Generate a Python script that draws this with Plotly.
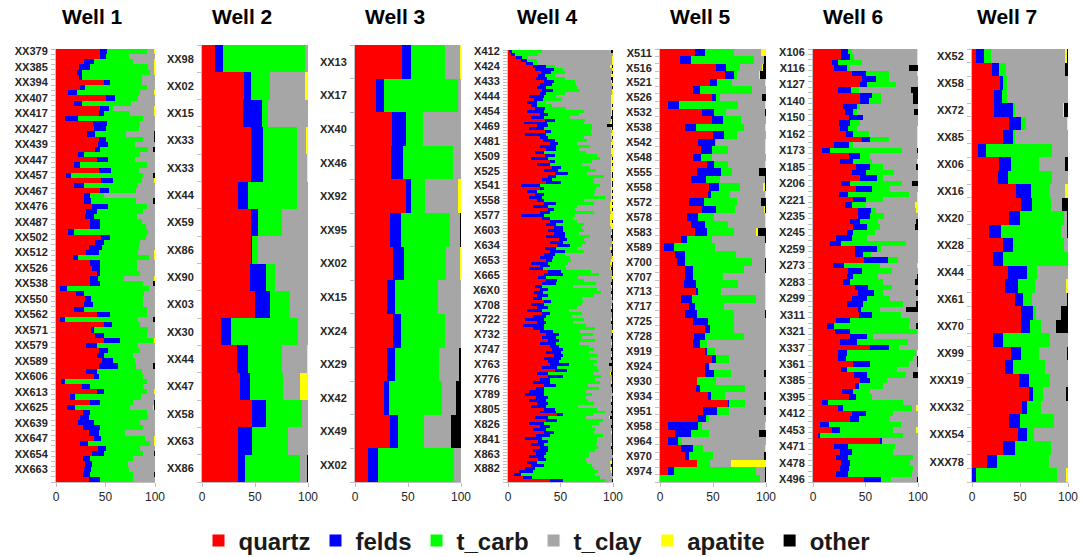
import plotly.graph_objects as go

W, H = 1081, 557

# ---------------- Well 1 ----------------
w1_labels = ["XX379", "XX385", "XX394", "XX407", "XX417", "XX427", "XX439", "XX447", "XX457", "XX467",
             "XX476", "XX487", "XX502", "XX512", "XX526", "XX538", "XX550", "XX562", "XX571", "XX579",
             "XX589", "XX606", "XX613", "XX625", "XX639", "XX647", "XX654", "XX663"]
w1_quartz = [44, 44, 28, 23, 21, 23, 48, 24, 12, 51, 18, 44, 43, 9, 37, 38, 31, 43, 42, 39,
             22, 41, 18, 43, 10, 46, 18, 44, 28, 28, 36, 30, 29, 34, 34, 12, 45, 39,
             33, 31, 17, 34, 36, 41, 34, 34, 4, 20, 29, 28, 18, 41, 4, 48, 35, 39, 48, 30,
             43, 41, 46, 43, 30, 38, 5, 26, 41, 14, 34, 11, 27, 24, 22, 27, 33, 38, 24, 42,
             36, 27, 29, 28, 27, 33]
w1_felds = [8, 6, 10, 11, 5, 3, 7, 5, 9, 9, 8, 10, 5, 13, 15, 12, 8, 8, 11, 5,
            6, 12, 6, 13, 5, 12, 10, 10, 6, 7, 17, 11, 9, 10, 10, 6, 10, 9,
            13, 13, 5, 10, 8, 3, 8, 10, 7, 8, 6, 9, 10, 14, 5, 9, 3, 9, 17, 11,
            10, 7, 12, 20, 11, 5, 4, 8, 7, 5, 10, 8, 7, 9, 16, 17, 10, 7, 8, 9,
            12, 7, 7, 7, 7, 11]
w1_carb = [40, 24, 40, 59, 69, 61, 32, 63, 64, 23, 50, 4, 27, 66, 33, 34, 32, 37, 27, 49,
           56, 27, 68, 28, 73, 30, 55, 27, 14, 46, 39, 47, 44, 43, 47, 75, 36, 37,
           38, 40, 72, 38, 38, 41, 27, 44, 83, 61, 53, 51, 64, 37, 74, 28, 55, 44, 33, 42,
           32, 30, 22, 18, 46, 45, 83, 54, 44, 67, 34, 56, 58, 60, 47, 44, 27, 45, 63, 34,
           40, 44, 37, 39, 44, 34]
w1_clay = [7, 26, 21, 6, 4, 13, 13, 8, 14, 17, 24, 41, 24, 12, 15, 16, 28, 11, 20, 5,
           15, 20, 8, 16, 10, 12, 17, 19, 52, 17, 8, 12, 18, 13, 9, 7, 9, 15,
           16, 16, 5, 18, 18, 15, 30, 10, 6, 11, 12, 12, 8, 8, 15, 15, 7, 8, 1, 17,
           15, 22, 20, 17, 13, 12, 8, 12, 7, 14, 21, 23, 8, 7, 15, 12, 30, 9, 4, 15,
           11, 22, 27, 26, 21, 22]
w1_apatite = [1, 0, 1, 1, 1, 0, 0, 0, 1, 0, 0, 1, 1, 0, 0, 0, 0, 0, 0, 0,
              0, 0, 0, 0, 0, 1, 0, 0, 0, 0, 0, 0, 0, 0, 0, 0, 0, 0,
              0, 1, 1, 0, 0, 0, 1, 0, 0, 0, 0, 0, 0, 0, 0, 0, 0, 0, 1, 0,
              0, 0, 0, 0, 0, 0, 0, 0, 1, 0, 0, 1, 0, 0, 0, 0, 0, 1, 1, 0,
              0, 0, 0, 0, 0, 0]
w1_other = [0, 0, 0, 0, 0, 0, 0, 0, 0, 0, 0, 0, 0, 0, 0, 0, 1, 1, 0, 2,
            0, 0, 0, 0, 2, 0, 0, 0, 0, 2, 0, 0, 0, 0, 0, 0, 0, 0,
            0, 0, 0, 0, 0, 0, 0, 2, 0, 0, 0, 0, 0, 0, 2, 0, 0, 0, 0, 0,
            0, 0, 0, 2, 0, 0, 0, 0, 0, 0, 1, 1, 0, 0, 0, 0, 0, 0, 0, 0,
            1, 0, 0, 0, 1, 0]

# ---------------- Well 2 ----------------
w2_labels = ["XX98", "XX02", "XX15", "XX33", "XX33", "XX44", "XX59", "XX86",
             "XX90", "XX03", "XX30", "XX44", "XX47", "XX58", "XX63", "XX86"]
w2_quartz = [12, 40, 39, 46, 46, 34, 46, 46, 45, 50, 18, 33, 36, 47, 34, 34]
w2_felds = [8, 6, 18, 12, 12, 9, 7, 1, 15, 14, 9, 10, 9, 13, 13, 7]
w2_carb = [77, 18, 5, 32, 32, 47, 22, 6, 9, 19, 64, 32, 31, 34, 34, 51]
w2_clay = [3, 33, 38, 8, 9, 10, 25, 47, 31, 17, 9, 24, 16, 6, 19, 7]
w2_apatite = [0, 3, 0, 2, 1, 0, 0, 0, 0, 0, 0, 1, 8, 0, 0, 0]
w2_other = [0, 0, 0, 0, 0, 0, 0, 0, 0, 0, 0, 0, 0, 0, 0, 1]

# ---------------- Well 3 ----------------
w3_labels = ["XX13", "XX17", "XX40", "XX46", "XX92", "XX95", "XX02", "XX15", "XX24",
             "XX29", "XX42", "XX49", "XX02"]
w3_quartz = [44, 20, 35, 34, 48, 33, 36, 30, 36, 30, 27, 33, 12]
w3_felds = [9, 7, 13, 11, 5, 10, 10, 8, 7, 8, 5, 8, 10]
w3_carb = [32, 70, 16, 47, 13, 46, 40, 40, 42, 41, 50, 24, 71]
w3_clay = [14, 3, 36, 8, 31, 9, 13, 22, 15, 19, 13, 26, 7]
w3_apatite = [1, 0, 0, 0, 3, 0, 1, 0, 0, 0, 0, 0, 0]
w3_other = [0, 0, 0, 0, 0, 1, 0, 0, 0, 2, 5, 9, 0]

# ---------------- Well 4 ----------------
w4_labels = ["X412", "X424", "X433", "X444", "X454", "X469", "X481", "X509", "X525", "X541",
             "X558", "X577", "X603", "X634", "X653", "X665", "X6X0", "X708", "X722", "X732",
             "X747", "X763", "X776", "X789", "X805", "X826", "X841", "X863", "X882"]
w4_quartz = [1, 3, 8, 12, 17, 24, 26, 31, 29, 27, 34, 30, 28, 32, 30, 20, 25, 18, 22, 26,
             18, 30, 22, 35, 15, 28, 20, 35, 16, 30, 33, 40, 30, 36, 26, 35, 22, 40, 28, 42,
             34, 45, 38, 32, 36, 12, 30, 18, 26, 20, 28, 34, 24, 38, 30, 12, 32, 40, 36, 44,
             38, 44, 36, 48, 40, 46, 36, 40, 34, 30, 36, 22, 30, 20, 38, 34, 28, 36, 32, 26,
             30, 25, 28, 24, 34, 22, 28, 18, 32, 24, 16, 28, 14, 24, 30, 36, 32, 38, 30, 40,
             42, 36, 44, 34, 38, 40, 32, 44, 28, 38, 30, 24, 34, 26, 20, 16, 26, 20, 28, 22,
             34, 30, 46, 26, 36, 20, 30, 24, 34, 26, 16, 28, 22, 30, 24, 26, 20, 28, 18, 22,
             16, 10, 6, 14, 40]
w4_felds = [3, 4, 5, 6, 7, 12, 18, 10, 6, 10, 10, 12, 8, 11, 6, 14, 8, 10, 6, 9,
            16, 8, 12, 10, 22, 10, 14, 6, 20, 8, 12, 8, 16, 10, 8, 10, 16, 5, 12, 8,
            14, 12, 8, 10, 14, 18, 4, 10, 8, 12, 6, 12, 14, 6, 10, 22, 8, 12, 10, 8,
            14, 10, 18, 8, 12, 12, 10, 14, 10, 12, 6, 16, 10, 14, 12, 18, 8, 10, 14, 6,
            8, 8, 10, 8, 6, 12, 10, 14, 8, 12, 18, 8, 20, 10, 12, 12, 14, 10, 16, 8,
            10, 14, 8, 16, 10, 18, 14, 12, 10, 14, 10, 16, 12, 8, 14, 18, 12, 16, 10, 14,
            10, 16, 6, 12, 10, 14, 10, 12, 10, 14, 16, 10, 12, 8, 14, 10, 14, 8, 10, 12,
            10, 14, 6, 8, 12]
w4_carb = [28, 22, 6, 10, 5, 9, 8, 13, 10, 17, 20, 23, 30, 26, 18, 12, 18, 8, 14, 20,
           38, 30, 25, 28, 35, 42, 46, 38, 44, 34, 30, 18, 32, 22, 40, 40, 50, 35, 30, 28,
           36, 18, 45, 40, 32, 58, 50, 55, 48, 60, 38, 36, 28, 20, 42, 30, 22, 14, 26, 18,
           20, 14, 24, 16, 22, 12, 20, 18, 10, 16, 18, 20, 14, 22, 28, 34, 30, 26, 38, 30,
           46, 56, 44, 38, 30, 36, 28, 26, 30, 24, 38, 26, 40, 48, 26, 32, 24, 34, 22, 28,
           30, 26, 34, 28, 36, 24, 38, 30, 44, 36, 42, 48, 30, 52, 40, 44, 36, 40, 44, 30,
           40, 46, 28, 36, 44, 52, 40, 46, 38, 50, 52, 46, 50, 48, 44, 40, 42, 38, 48, 46,
           56, 62, 70, 64, 40]
w4_clay = [66, 71, 80, 71, 70, 52, 47, 45, 53, 44, 34, 34, 33, 30, 45, 52, 47, 62, 56, 43,
           26, 30, 39, 25, 25, 14, 18, 20, 18, 26, 24, 32, 20, 30, 24, 14, 10, 18, 28, 20,
           14, 23, 7, 16, 16, 10, 14, 15, 16, 6, 26, 15, 31, 33, 16, 33, 35, 31, 25, 28,
           26, 30, 20, 26, 24, 28, 32, 26, 44, 40, 38, 40, 44, 42, 20, 12, 32, 26, 14, 36,
           14, 9, 16, 28, 28, 28, 32, 40, 28, 38, 26, 36, 24, 16, 30, 18, 28, 16, 30, 22,
           16, 22, 12, 20, 14, 14, 14, 12, 16, 10, 16, 10, 22, 12, 24, 20, 24, 22, 16, 32,
           14, 6, 18, 22, 8, 12, 18, 16, 16, 8, 14, 14, 14, 12, 16, 22, 22, 24, 22, 18,
           15, 12, 16, 12, 6]
w4_apatite = [0, 0, 1, 1, 1, 2, 1, 0, 2, 0, 1, 1, 0, 1, 1, 2, 2, 2, 1, 2,
              1, 1, 0, 1, 2, 0, 1, 1, 2, 1, 1, 2, 1, 2, 2, 1, 1, 2, 1, 2,
              2, 1, 1, 2, 1, 1, 2, 1, 2, 1, 2, 2, 3, 2, 2, 3, 3, 2, 3, 2,
              0, 1, 0, 0, 1, 0, 2, 0, 0, 1, 2, 2, 0, 1, 0, 0, 1, 0, 0, 1,
              0, 0, 1, 0, 0, 0, 1, 0, 0, 0, 1, 0, 0, 0, 1, 0, 0, 0, 1, 0,
              0, 0, 1, 0, 0, 0, 0, 0, 1, 0, 0, 1, 0, 0, 0, 0, 0, 1, 0, 0,
              0, 0, 0, 1, 0, 0, 0, 0, 1, 0, 0, 0, 1, 0, 0, 0, 0, 0, 2, 0,
              2, 1, 0, 0, 0]
w4_other = [2, 0, 0, 0, 0, 1, 0, 1, 0, 2, 1, 0, 1, 0, 0, 0, 0, 0, 1, 0,
            1, 1, 2, 1, 1, 6, 1, 0, 0, 1, 0, 0, 1, 0, 0, 0, 1, 0, 1, 0,
            0, 1, 1, 0, 1, 1, 0, 1, 0, 1, 0, 1, 0, 1, 0, 0, 0, 1, 0, 0,
            1, 1, 2, 1, 0, 1, 1, 2, 1, 0, 0, 1, 1, 2, 1, 1, 0, 1, 2, 1,
            1, 2, 1, 1, 0, 1, 1, 2, 1, 1, 1, 2, 1, 1, 0, 1, 2, 1, 1, 1,
            2, 1, 1, 2, 1, 4, 1, 1, 2, 1, 1, 1, 2, 1, 1, 0, 1, 1, 2, 1,
            1, 2, 1, 3, 1, 1, 2, 1, 1, 1, 1, 1, 1, 2, 1, 1, 0, 1, 1, 2,
            1, 1, 1, 0, 1]

# ---------------- Well 5 ----------------
w5_labels = ["X511", "X516", "X521", "X526", "X532", "X538", "X542", "X548", "X555", "X558",
             "X572", "X578", "X583", "X589", "X700", "X707", "X713", "X717", "X725", "X728",
             "X919", "X924", "X930", "X934", "X951", "X958", "X964", "X970", "X974"]
w5_quartz = [33, 19, 53, 61, 47, 31, 49, 8, 40, 49, 24, 50, 36, 39, 31, 44, 35, 29, 46, 45,
             27, 40, 25, 29, 33, 20, 4, 14, 16, 24, 24, 23, 34, 20, 27, 24, 31, 42, 32, 31,
             42, 49, 42, 42, 35, 34, 45, 64, 41, 36, 8, 14, 7, 20, 24, 35, 8, 0]
w5_felds = [9, 10, 9, 9, 7, 7, 4, 10, 11, 10, 10, 10, 16, 10, 8, 7, 23, 14, 10, 3,
            14, 13, 11, 13, 11, 5, 9, 10, 8, 7, 7, 11, 2, 10, 6, 11, 14, 5, 10, 7,
            2, 4, 4, 9, 0, 4, 3, 1, 13, 7, 28, 15, 10, 11, 3, 0, 5, 0]
w5_carb = [28, 60, 13, 3, 14, 49, 4, 56, 11, 17, 45, 13, 1, 15, 10, 13, 10, 14, 19, 18,
           31, 18, 15, 22, 26, 24, 39, 48, 63, 48, 28, 40, 22, 61, 27, 35, 25, 23, 37, 6,
           8, 12, 1, 16, 18, 42, 13, 15, 11, 3, 4, 17, 3, 10, 23, 12, 78, 94]
w5_clay = [25, 9, 21, 20, 31, 13, 39, 25, 37, 24, 20, 27, 46, 35, 51, 35, 25, 42, 22, 33,
           22, 27, 48, 35, 21, 50, 47, 27, 12, 20, 40, 25, 41, 8, 39, 29, 30, 30, 21, 56,
           48, 35, 53, 31, 47, 20, 37, 20, 33, 54, 59, 47, 78, 58, 48, 20, 8, 5]
w5_apatite = [5, 0, 1, 1, 1, 0, 0, 1, 0, 0, 1, 0, 1, 1, 0, 1, 0, 0, 2, 1,
              0, 1, 1, 1, 1, 0, 1, 1, 0, 0, 1, 1, 1, 1, 1, 0, 0, 0, 0, 0,
              0, 0, 0, 0, 0, 0, 0, 0, 0, 0, 1, 0, 0, 1, 0, 33, 0, 0]
w5_other = [0, 2, 3, 6, 0, 0, 4, 0, 1, 0, 0, 0, 0, 0, 0, 0, 7, 1, 1, 0,
            5, 1, 0, 0, 8, 1, 0, 0, 1, 1, 0, 0, 0, 0, 0, 1, 0, 0, 0, 0,
            0, 0, 0, 2, 0, 0, 2, 0, 2, 0, 0, 7, 0, 0, 2, 0, 1, 1]

# ---------------- Well 6 ----------------
w6_labels = ["X106", "X116", "X127", "X140", "X150", "X162", "X173", "X185", "X206", "X221",
             "X235", "X245", "X259", "X273", "X283", "X299", "X311", "X321", "X337", "X361",
             "X385", "X395", "X412", "X453", "X471", "X478", "X496"]
w6_quartz = [27, 27, 18, 20, 37, 46, 45, 24, 45, 45, 29, 30, 34, 25, 26, 32, 47, 20, 9, 34,
             26, 41, 37, 45, 27, 41, 25, 38, 30, 43, 43, 35, 38, 32, 22, 16, 40, 40, 49, 19,
             33, 32, 29, 40, 44, 37, 32, 43, 44, 22, 13, 21, 35, 26, 54, 24, 24, 38, 26, 39,
             45, 40, 28, 34, 9, 24, 37, 35, 7, 18, 5, 64, 20, 26, 22, 27, 26, 22, 49]
w6_felds = [6, 8, 6, 12, 13, 13, 6, 12, 11, 8, 13, 8, 14, 10, 8, 6, 7, 14, 7, 11,
            12, 13, 13, 16, 8, 15, 8, 12, 7, 13, 11, 10, 13, 6, 15, 11, 21, 8, 22, 11,
            14, 6, 6, 12, 15, 14, 16, 3, 12, 13, 7, 14, 16, 16, 18, 8, 7, 16, 6, 12,
            9, 4, 10, 7, 5, 5, 13, 9, 8, 8, 2, 2, 13, 11, 11, 8, 8, 11, 16]
w6_carb = [4, 4, 23, 3, 22, 13, 28, 8, 9, 12, 3, 4, 0, 10, 8, 16, 18, 4, 69, 9,
           19, 13, 27, 6, 50, 17, 58, 17, 13, 5, 14, 17, 13, 21, 14, 62, 4, 7, 10, 34,
           28, 24, 32, 23, 9, 22, 38, 18, 28, 57, 71, 64, 6, 48, 10, 66, 64, 37, 47, 38,
           16, 23, 16, 15, 72, 65, 26, 29, 69, 50, 79, 0, 45, 39, 62, 57, 61, 61, 9]
w6_clay = [62, 60, 52, 56, 27, 27, 21, 49, 30, 30, 55, 54, 52, 55, 58, 46, 27, 61, 14, 46,
           43, 31, 23, 33, 9, 27, 8, 32, 47, 38, 32, 36, 33, 41, 49, 11, 35, 45, 19, 36,
           25, 37, 30, 25, 32, 27, 12, 25, 16, 8, 7, 1, 43, 10, 18, 1, 4, 8, 20, 6,
           30, 33, 46, 44, 14, 4, 24, 27, 16, 22, 14, 34, 22, 24, 5, 8, 5, 6, 25]
w6_apatite = [1, 1, 1, 0, 1, 0, 0, 0, 0, 0, 0, 0, 0, 0, 1, 1, 1, 1, 0, 0,
              1, 0, 0, 0, 0, 0, 1, 1, 3, 2, 0, 0, 0, 0, 0, 0, 0, 0, 0, 1,
              0, 0, 0, 0, 0, 0, 0, 0, 0, 0, 0, 0, 0, 0, 0, 1, 0, 0, 0, 0,
              0, 0, 0, 0, 0, 2, 0, 0, 0, 2, 0, 0, 0, 0, 0, 0, 0, 0, 0]
w6_other = [0, 0, 0, 9, 0, 0, 0, 7, 5, 5, 0, 4, 0, 0, 0, 0, 0, 0, 1, 0,
            0, 2, 0, 0, 6, 0, 0, 0, 0, 0, 0, 2, 3, 0, 0, 0, 0, 0, 0, 0,
            0, 1, 3, 0, 2, 0, 2, 11, 0, 0, 2, 0, 0, 0, 0, 0, 1, 1, 0, 5,
            0, 0, 0, 0, 0, 0, 0, 0, 0, 0, 0, 0, 0, 0, 0, 0, 0, 0, 1]

# ---------------- Well 7 ----------------
w7_labels = ["XX52", "XX58", "XX72", "XX85", "XX06", "XX16", "XX20", "XX28", "XX44", "XX61",
             "XX70", "XX99", "XXX19", "XXX32", "XXX54", "XXX78"]
w7_quartz = [4, 21, 29, 23, 23, 39, 32, 6, 28, 27, 46, 51, 39, 18, 32, 22, 37, 34, 45, 51,
             51, 22, 41, 34, 49, 59, 52, 39, 48, 32, 16, 0]
w7_felds = [9, 7, 3, 8, 20, 12, 11, 9, 13, 10, 15, 12, 11, 12, 11, 10, 20, 14, 8, 13,
            9, 10, 10, 9, 10, 5, 5, 11, 9, 13, 10, 4]
w7_carb = [7, 7, 4, 5, 2, 5, 2, 68, 29, 46, 20, 19, 46, 63, 53, 68, 11, 18, 10, 3,
           12, 49, 19, 33, 22, 10, 15, 35, 8, 37, 54, 85]
w7_clay = [77, 62, 64, 64, 50, 43, 55, 17, 27, 17, 16, 12, 3, 6, 4, 0, 32, 32, 36, 26,
           15, 19, 29, 24, 19, 24, 28, 15, 35, 18, 20, 9]
w7_apatite = [2, 0, 0, 0, 1, 1, 0, 0, 0, 0, 3, 0, 0, 0, 0, 0, 0, 2, 0, 0,
              0, 0, 0, 0, 0, 0, 0, 0, 0, 0, 0, 2]
w7_other = [1, 3, 0, 0, 4, 0, 0, 0, 3, 0, 0, 6, 1, 1, 0, 0, 0, 0, 1, 7,
            13, 0, 1, 0, 0, 2, 0, 0, 0, 0, 0, 0]

components = ["quartz", "felds", "t_carb", "t_clay", "apatite", "other"]
colors = ["#FF0000", "#0000FF", "#00FF00", "#A6A6A6", "#FFFF00", "#000000"]

wells = [
    ("Well 1", w1_labels, 3, [w1_quartz, w1_felds, w1_carb, w1_clay, w1_apatite, w1_other], (56, 155), 49),
    ("Well 2", w2_labels, 1, [w2_quartz, w2_felds, w2_carb, w2_clay, w2_apatite, w2_other], (202, 308), 45),
    ("Well 3", w3_labels, 1, [w3_quartz, w3_felds, w3_carb, w3_clay, w3_apatite, w3_other], (355, 461), 45),
    ("Well 4", w4_labels, 5, [w4_quartz, w4_felds, w4_carb, w4_clay, w4_apatite, w4_other], (508, 613), 50),
    ("Well 5", w5_labels, 2, [w5_quartz, w5_felds, w5_carb, w5_clay, w5_apatite, w5_other], (660, 766), 49),
    ("Well 6", w6_labels, 3, [w6_quartz, w6_felds, w6_carb, w6_clay, w6_apatite, w6_other], (813, 918), 49),
    ("Well 7", w7_labels, 2, [w7_quartz, w7_felds, w7_carb, w7_clay, w7_apatite, w7_other], (972, 1068), 49),
]

FONT = "Liberation Sans, Arial, sans-serif"
fig = go.Figure()
annotations = []
layout_axes = {}
bottom_px = 482

for i, (title, labels, step, series, (x0, x1), top_px) in enumerate(wells, start=1):
    n = len(series[0])
    rows = list(range(n))
    xa = "x" if i == 1 else f"x{i}"
    ya = "y" if i == 1 else f"y{i}"
    for comp, col, vals in zip(components, colors, series):
        fig.add_trace(go.Bar(
            x=vals, y=rows, orientation="h", name=comp,
            marker=dict(color=col, line=dict(width=0)),
            xaxis=xa, yaxis=ya, showlegend=(i == 1), legendgroup=comp,
            hoverinfo="skip",
        ))
    xkey = "xaxis" if i == 1 else f"xaxis{i}"
    ykey = "yaxis" if i == 1 else f"yaxis{i}"
    layout_axes[xkey] = dict(
        domain=[x0 / W, x1 / W], anchor=ya, range=[0, 100], automargin=False,
        tickmode="array", tickvals=[0, 50, 100], ticktext=["0", "50", "100"],
        ticks="outside", ticklen=4, tickcolor="#BFBFBF", ticklabeloverflow="allow",
        showline=True, linecolor="#BFBFBF", linewidth=1,
        showgrid=False, zeroline=False, fixedrange=True,
        tickfont=dict(family=FONT, size=12, color="#262626"),
    )
    layout_axes[ykey] = dict(
        domain=[1 - bottom_px / H, 1 - top_px / H], anchor=xa, automargin=False,
        range=[n - 0.5, -0.5],
        tickmode="array",
        tickvals=list(range(0, len(labels) * step, step)),
        ticktext=labels, ticklabeloverflow="allow", ticklabelstandoff=5,
        ticks="", showline=True, linecolor="#BFBFBF", linewidth=1,
        showgrid=False, zeroline=False, fixedrange=True,
        tickfont=dict(family=FONT, size=11, color="#262626", weight="bold"),
        minor=dict(tickmode="array", tickvals=[k - 0.5 for k in range(n + 1)],
                   ticks="outside", ticklen=4, tickcolor="#BFBFBF", showgrid=False),
    )
    annotations.append(dict(
        text=title, x=((x0 + x1) / 2 - 13) / W, y=1 - 17 / H, xref="paper", yref="paper",
        xanchor="center", yanchor="middle", showarrow=False,
        font=dict(family=FONT, size=21, color="#000000", weight="bold"),
    ))

fig.update_layout(
    width=W, height=H,
    margin=dict(l=0, r=0, t=0, b=0, autoexpand=False),
    paper_bgcolor="white", plot_bgcolor="white",
    barmode="stack", barnorm="percent", bargap=0,
    annotations=annotations,
    legend=dict(orientation="h", x=537 / W, xanchor="center", y=1 - 541 / H, yanchor="middle",
                font=dict(family=FONT, size=24, color="#1a1a1a", weight="bold"), traceorder="normal",
                itemclick=False, itemdoubleclick=False),
    **layout_axes,
)

fig.write_html("out.html",
               config={"displayModeBar": False, "staticPlot": True},
               post_script="document.body.style.margin='0';document.body.style.overflow='hidden';")
